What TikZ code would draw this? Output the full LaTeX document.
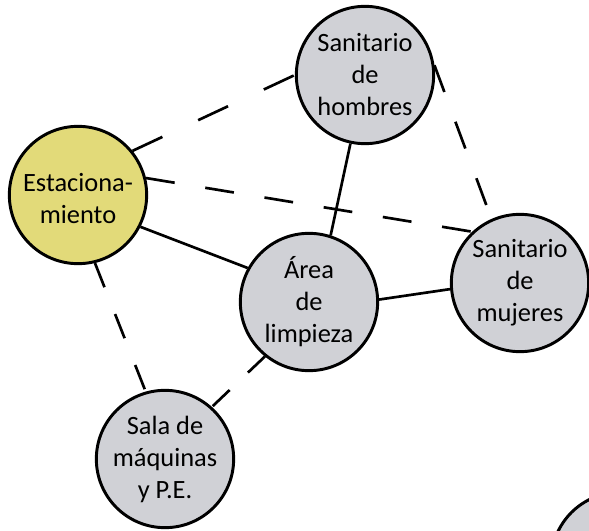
\documentclass[tikz,border=0pt]{standalone}
\usepackage{fontspec}
\setmainfont{Carlito}
\definecolor{roomgray}{RGB}{208,209,214}
\definecolor{estyellow}{RGB}{226,218,121}
\begin{document}
\begin{tikzpicture}[x=0.75pt,y=-0.75pt,
  roomfont/.style={font=\fontsize{19.8}{24}\selectfont},
  room/.style={circle, draw=black, line width=2.2pt, minimum size=103pt, inner sep=0pt,
    align=center, roomfont, fill=roomgray},
  solidlink/.style={line width=2pt},
  dashlink/.style 2 args={line width=2pt, dash pattern=on #1 off #2}]
\useasboundingbox (0,0) rectangle (589,531);
\node[room, fill=estyellow,
  label={[name=esttext, roomfont, align=center, yshift=-3pt]center:Estaciona-\\miento}] (est) at (78,195) {};
\node[room] (hom) at (365,75) {Sanitario\\de\\hombres};
\node[room] (are) at (309,302) {Área\\de\\limpieza};
\node[room] (muj) at (520,283) {Sanitario\\de\\mujeres};
\node[room] (sal) at (165,459) {Sala de\\máquinas\\y P.E.};
\begin{scope}
  \clip (0,0) rectangle (589,531);
  \node[room] (extra) at (620,561) {};
\end{scope}
\draw[solidlink] (est.-27) -- (are.151);
\draw[solidlink] (hom.-102) -- (are.72);
\draw[solidlink] (are.2) -- (muj.185);
\draw[dashlink={24.75pt}{29.6pt}] (est.39) -- (hom.180);
\draw[dashlink={21.75pt}{23.25pt}] (est.14) -- (muj.133);
\draw[dashlink={21.4pt}{23.8pt}] (hom.8) -- (muj.114);
\draw[dashlink={19.5pt}{21.6pt}] (est.-76) -- (sal.106);
\draw[dashlink={17.5pt}{19pt}] (are.231) -- (sal.48);
\end{tikzpicture}
\end{document}
